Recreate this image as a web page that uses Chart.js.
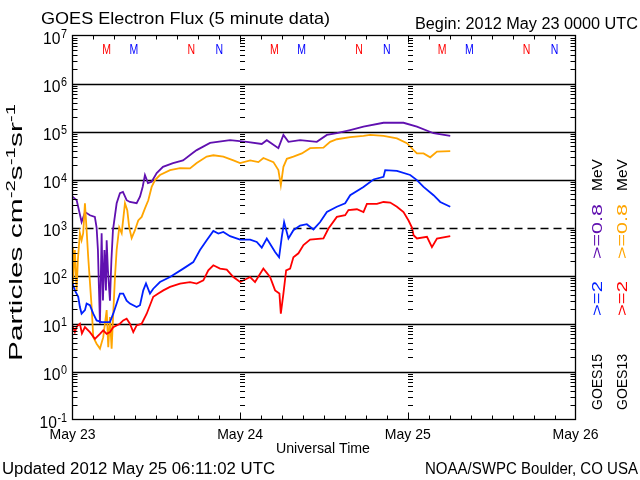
<!DOCTYPE html>
<html>
<head>
<meta charset="utf-8">
<script src="https://cdn.jsdelivr.net/npm/chart.js@4.4.0/dist/chart.umd.min.js"></script>
<style>
html, body { margin: 0; padding: 0; background: #fff; }
canvas { display: block; }
</style>
</head>
<body>
<canvas id="mycanvas" width="640" height="480"></canvas>
<script>
// [hours since 2012 May 23 00:00 UTC, flux]
var g15_08 = [[0,4400],[0.6,3700],[1.3,1300],[1.8,2100],[2.5,1800],[3.2,1660],[3.45,1000],[3.64,340],[3.78,58],[3.93,10],[4.17,760],[4.36,30],[4.57,340],[4.79,49],[4.89,540],[5.07,130],[5.36,30],[5.57,210],[5.79,880],[6.32,3200],[6.79,5200],[7.22,5500],[7.75,3700],[8.22,3400],[9.18,3200],[9.66,4400],[10.04,7000],[10.37,12400],[10.8,8400],[11.33,9000],[12.05,13600],[12.95,18400],[14.39,22000],[15.82,25000],[17.25,36000],[17.78,41000],[19.69,58000],[22.55,66000],[24.95,61000],[27.09,55000],[27.81,66000],[29.47,45000],[30.19,85000],[30.91,61000],[32.58,66000],[34.97,61000],[36.41,85000],[37.84,92000],[39.75,107000],[41.65,126000],[44.52,152000],[47.38,152000],[49.3,126000],[51.68,92000],[54.07,81000]];

var g13_08 = [[0,390],[0.06,69],[0.34,340],[0.59,49],[0.77,210],[1.06,760],[1.3,540],[1.53,760],[1.78,3200],[2.02,880],[2.25,240],[2.74,22],[2.97,5.2],[3.45,3.8],[3.93,3.0],[4.4,5.2],[4.89,19],[5.12,3.2],[5.36,13.6],[5.6,3.0],[5.83,16],[6.08,93],[6.32,340],[6.69,1000],[7.04,760],[7.51,3200],[7.84,2300],[8.12,1000],[8.47,600],[8.94,880],[9.41,1400],[9.9,1660],[10.37,2500],[10.85,3700],[11.33,7000],[11.81,9700],[12.52,12400],[13.96,15700],[15.39,17300],[16.82,17000],[17.78,22000],[19.21,30000],[20.16,32000],[21.59,30000],[23.03,25000],[23.99,22000],[25.43,25000],[26.61,23000],[27.32,28000],[28.76,23000],[29.47,15700],[29.82,7600],[30.19,18400],[30.68,27000],[31.62,30000],[32.83,35000],[34.01,45000],[35.92,46000],[36.88,61000],[37.84,69000],[39.75,76000],[41.65,81000],[42.61,85000],[44.52,81000],[46.44,72000],[47.87,57000],[48.82,41000],[49.3,35000],[50.25,35000],[51.21,29000],[52.17,38000],[54.07,39000]];

var g15_2 = [[0,69],[0.34,49],[0.82,36],[1.06,22],[1.3,16],[1.78,19],[2.02,26],[2.49,24],[2.97,16],[3.45,11.6],[4.17,10.7],[5.36,10.7],[5.83,16],[6.32,26],[6.79,42],[7.26,42],[7.75,30],[8.22,26],[9.18,22],[9.66,24],[10.13,49],[10.52,68],[11.09,42],[11.56,53],[12.52,73],[13.96,93],[15.86,139],[17.29,190],[18.25,340],[19.21,540],[20.16,850],[20.88,750],[21.59,810],[22.55,660],[23.99,560],[25.43,560],[26.38,500],[27.09,380],[27.81,590],[29.0,310],[29.57,240],[29.96,640],[30.29,1300],[30.91,590],[31.62,880],[32.58,1100],[33.54,1170],[34.49,910],[35.45,1300],[36.41,2100],[37.84,2700],[39.03,3200],[39.75,4700],[41.65,7000],[43.08,10000],[44.52,11400],[44.76,15700],[46.44,15200],[48.34,12400],[49.3,9700],[50.25,7000],[51.68,4700],[52.64,3400],[54.07,2700]];

var g13_2 = [[0,9.1],[0.34,6.6],[0.63,8.7],[1.06,9.9],[1.35,6.2],[1.78,8.4],[2.49,6.6],[3.21,4.8],[3.93,6.1],[4.4,7.2],[4.89,6.1],[5.36,6.6],[5.83,8.4],[6.32,9.1],[6.79,9.9],[7.26,11.6],[7.75,12.6],[8.22,9.9],[8.7,6.6],[9.18,9.1],[9.9,9.9],[10.62,16],[11.09,24],[11.56,36],[12.28,42],[13.0,49],[13.96,58],[15.39,68],[16.82,73],[17.78,68],[18.73,79],[19.44,128],[20.16,163],[21.12,139],[22.08,133],[23.03,93],[23.99,73],[25.43,93],[26.13,73],[27.32,139],[28.28,93],[29.0,49],[29.62,42],[29.82,16],[30.19,42],[30.58,128],[31.15,139],[31.62,240],[32.34,290],[33.06,430],[34.01,560],[35.92,590],[36.64,950],[37.84,1660],[39.03,1800],[39.5,2300],[40.71,2400],[41.65,2100],[42.14,3100],[43.57,3100],[44.52,3400],[45.48,3300],[46.44,2700],[47.38,2100],[48.1,1400],[48.59,1000],[48.82,690],[49.3,590],[50.74,640],[51.45,390],[52.17,590],[54.07,660]];

var dayLabels = ['May 23', 'May 24', 'May 25', 'May 26'];
var dayHours = [0, 24, 48, 72];
var decades = [-1, 0, 1, 2, 3, 4, 5, 6, 7];
var markLetters = ['M', 'M', 'N', 'N'];
var markHours = [4.9, 8.8, 17.0, 21.0];

var FONT = '"Liberation Sans", Arial, sans-serif';

function pts(arr) {
    return arr.map(function(p) { return {x: p[0], y: p[1]}; });
}

// draw text, optionally squeezed to a width and rotated
function txt(ctx, s, x, y, size, o) {
    o = o || {};
    ctx.save();
    ctx.font = size + 'px ' + FONT;
    ctx.fillStyle = o.color || '#000';
    ctx.textBaseline = 'alphabetic';
    ctx.textAlign = 'left';
    var nat = ctx.measureText(s).width;
    var sx = o.w ? o.w / nat : (o.sx || 1);
    ctx.translate(x, y);
    if (o.rot) ctx.rotate(o.rot);
    ctx.scale(sx, 1);
    var off = o.align === 'right' ? -nat : (o.align === 'center' ? -nat / 2 : 0);
    ctx.fillText(s, off, 0);
    ctx.restore();
    return nat * sx;
}

function hline(ctx, x1, x2, y) {
    ctx.beginPath(); ctx.moveTo(x1, y); ctx.lineTo(x2, y); ctx.stroke();
}
function vline(ctx, x, y1, y2) {
    ctx.beginPath(); ctx.moveTo(x, y1); ctx.lineTo(x, y2); ctx.stroke();
}

var fluxFrame = {
    id: 'fluxFrame',
    beforeDatasetsDraw: function(chart) {
        var ctx = chart.ctx, a = chart.chartArea, ys = chart.scales.y;
        ctx.save();
        ctx.strokeStyle = '#000';
        ctx.lineWidth = 1.3;
        decades.forEach(function(e) {
            if (e === -1 || e === 7) return;
            var y = Math.round(ys.getPixelForValue(Math.pow(10, e))) + 0.5;
            ctx.setLineDash(e === 3 ? [8, 5] : []);
            hline(ctx, a.left, a.right, y);
        });
        ctx.restore();
    },
    afterDraw: function(chart) {
        var ctx = chart.ctx, a = chart.chartArea, xs = chart.scales.x, ys = chart.scales.y;
        ctx.save();
        ctx.strokeStyle = '#000';
        ctx.lineWidth = 1.3;
        ctx.strokeRect(a.left, a.top, a.right - a.left, a.bottom - a.top);

        // minor y ticks on frame and on day boundaries
        ctx.lineWidth = 1;
        decades.forEach(function(e) {
            if (e === 7) return;
            for (var k = 2; k <= 9; k++) {
                var y = Math.round(ys.getPixelForValue(k * Math.pow(10, e))) + 0.5;
                hline(ctx, a.left, a.left + 5, y);
                hline(ctx, a.right - 5, a.right, y);
                [24, 48].forEach(function(h) {
                    var x = Math.round(xs.getPixelForValue(h));
                    hline(ctx, x, x + 5, y);
                });
            }
        });
        // x ticks every 3 hours
        for (var h = 3; h < 72; h += 3) {
            var x = Math.round(xs.getPixelForValue(h)) + 0.5;
            var len = (h % 24 === 0) ? 7 : 4;
            vline(ctx, x, a.top, a.top + len);
            vline(ctx, x, a.bottom - len, a.bottom);
        }

        // y labels 10^n
        decades.forEach(function(e) {
            var y = ys.getPixelForValue(Math.pow(10, e));
            var es = String(e);
            ctx.font = '12px ' + FONT;
            var w2 = ctx.measureText(es).width * 0.9;
            txt(ctx, '10', 67 - w2 - 0.5, y + 8, 17, {align: 'right', sx: 0.92});
            txt(ctx, es, 67 - w2, y + 2.5, 12, {sx: 0.9});
        });

        // x labels
        dayHours.forEach(function(h, i) {
            txt(ctx, dayLabels[i], xs.getPixelForValue(h), 439, 15, {align: 'center', w: 46});
        });
        txt(ctx, 'Universal Time', 323, 453, 14, {align: 'center', w: 94});

        // satellite M / N markers
        [0, 24, 48].forEach(function(d) {
            markHours.forEach(function(mh, i) {
                txt(ctx, markLetters[i], xs.getPixelForValue(d + mh), 54, 14,
                    {align: 'center', sx: 0.75, color: i % 2 === 0 ? '#ff0000' : '#0000ff'});
            });
        });

        // titles and footer
        txt(ctx, 'GOES Electron Flux (5 minute data)', 41, 24, 17, {w: 289});
        txt(ctx, 'Begin: 2012 May 23 0000 UTC', 638, 29, 16, {align: 'right', w: 223});
        txt(ctx, 'Updated 2012 May 25 06:11:02 UTC', 2, 474, 16, {w: 273});
        txt(ctx, 'NOAA/SWPC Boulder, CO USA', 638, 474, 16, {align: 'right', w: 213});

        // rotated y title with superscripts
        var segs = [['Particles cm', 0], ['-2', 1], ['s', 0], ['-1', 1], ['sr', 0], ['-1', 1]];
        var tot = 0;
        segs.forEach(function(s) {
            ctx.font = (s[1] ? 13 : 19) + 'px ' + FONT;
            tot += ctx.measureText(s[0]).width;
        });
        var sc = 257 / tot;
        ctx.save();
        ctx.translate(22, 361);
        ctx.rotate(-Math.PI / 2);
        ctx.scale(sc, 1);
        ctx.fillStyle = '#000';
        var off = 0;
        segs.forEach(function(s) {
            ctx.font = (s[1] ? 13 : 19) + 'px ' + FONT;
            ctx.fillText(s[0], off, s[1] ? -7 : 0);
            off += ctx.measureText(s[0]).width;
        });
        ctx.restore();

        // right-hand legend, rotated
        var rot = -Math.PI / 2;
        txt(ctx, 'GOES15', 602, 410, 15, {rot: rot, w: 56});
        txt(ctx, '>=2', 602, 316, 15, {rot: rot, w: 35, color: '#0020ff'});
        txt(ctx, '>=0.8', 602, 259, 15, {rot: rot, w: 55, color: '#6010b0'});
        txt(ctx, 'MeV', 602, 191, 15, {rot: rot, w: 32});
        txt(ctx, 'GOES13', 627, 410, 15, {rot: rot, w: 56});
        txt(ctx, '>=2', 627, 316, 15, {rot: rot, w: 35, color: '#ff0000'});
        txt(ctx, '>=0.8', 627, 259, 15, {rot: rot, w: 55, color: '#ffa500'});
        txt(ctx, 'MeV', 627, 191, 15, {rot: rot, w: 32});
        ctx.restore();
    }
};

var ctx = document.getElementById('mycanvas').getContext('2d');
var fluxChart = new Chart(ctx, {
    type: 'line',
    data: {
        datasets: [
            {label: 'GOES13 >=2 MeV', data: pts(g13_2), borderColor: '#ff0000'},
            {label: 'GOES15 >=2 MeV', data: pts(g15_2), borderColor: '#0020ff'},
            {label: 'GOES13 >=0.8 MeV', data: pts(g13_08), borderColor: '#ffa500'},
            {label: 'GOES15 >=0.8 MeV', data: pts(g15_08), borderColor: '#6010b0'}
        ]
    },
    options: {
        responsive: false,
        animation: false,
        layout: {padding: {left: 72.5, right: 64.5, top: 35.5, bottom: 60.5}},
        elements: {
            point: {radius: 0},
            line: {borderWidth: 1.8, tension: 0, fill: false}
        },
        scales: {
            x: {type: 'linear', min: 0, max: 72, display: false},
            y: {type: 'logarithmic', min: 0.1, max: 1e7, display: false}
        },
        plugins: {
            legend: {display: false},
            tooltip: {enabled: false}
        }
    },
    plugins: [fluxFrame]
});
</script>
</body>
</html>
